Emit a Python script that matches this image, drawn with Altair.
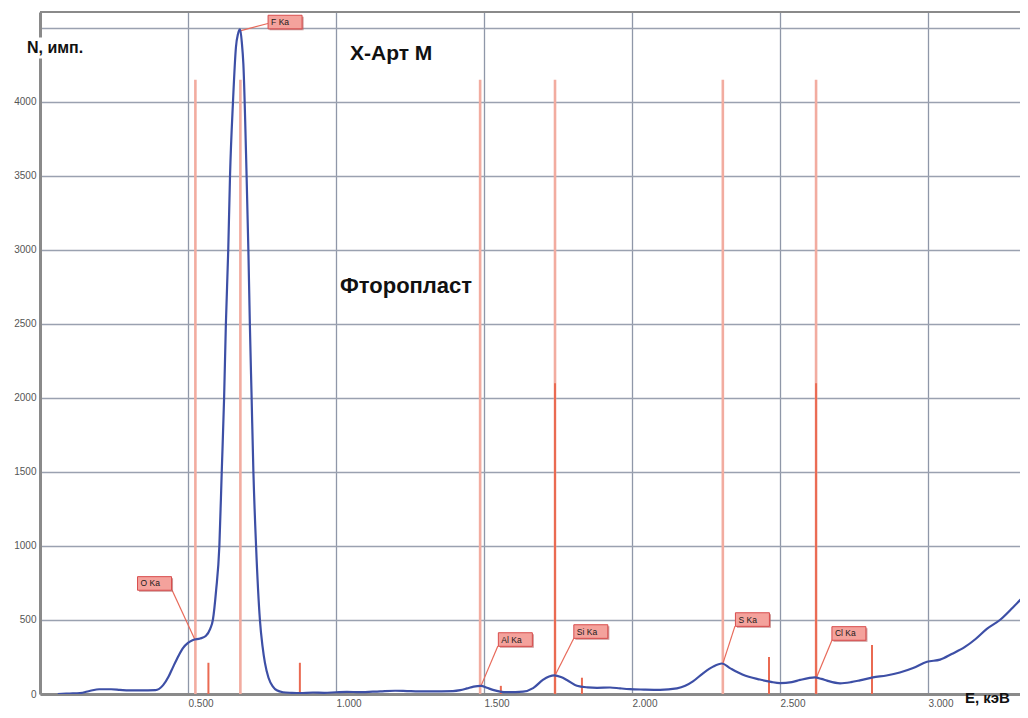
import altair as alt
import pandas as pd

# ---- spectrum curve (energy keV, counts) ----
energy = [0.06, 0.10, 0.135, 0.17, 0.20, 0.24, 0.27, 0.30, 0.34, 0.39, 0.416, 0.435, 0.449, 0.466, 0.483,
          0.50, 0.517, 0.541, 0.56, 0.575, 0.584, 0.595, 0.606, 0.614, 0.622, 0.628, 0.636, 0.642, 0.652,
          0.662, 0.669, 0.676, 0.682, 0.687, 0.698, 0.704, 0.709, 0.715, 0.721, 0.730, 0.743, 0.752, 0.760,
          0.772, 0.787, 0.80, 0.821, 0.85, 0.878, 0.922, 0.96, 1.00, 1.037, 1.08, 1.149, 1.20, 1.24, 1.28,
          1.318, 1.395, 1.42, 1.443, 1.465, 1.490, 1.51, 1.530, 1.555, 1.578, 1.632, 1.666, 1.699, 1.72,
          1.738, 1.76, 1.780, 1.814, 1.85, 1.882, 1.926, 1.96, 1.993, 2.04, 2.095, 2.152, 2.18, 2.206, 2.240,
          2.274, 2.304, 2.331, 2.375, 2.432, 2.47, 2.500, 2.54, 2.568, 2.618, 2.64, 2.659, 2.703, 2.74, 2.770,
          2.814, 2.86, 2.905, 2.95, 2.997, 3.041, 3.08, 3.125, 3.16, 3.199, 3.243, 3.287, 3.338]
counts = [0, 3, 6, 22, 32, 32, 28, 24, 24, 26, 60, 120, 180, 250, 310,
          345, 365, 375, 392, 440, 500, 700, 1000, 1500, 2000, 2500, 3000, 3500, 4000,
          4370, 4460, 4490, 4400, 4260, 3500, 3000, 2500, 2000, 1500, 1000, 500, 320, 210,
          110, 50, 25, 12, 8, 6, 10, 8, 12, 15, 12, 18, 22, 20, 18,
          18, 20, 26, 38, 50, 55, 42, 28, 16, 12, 16, 40, 95, 118,
          126, 115, 95, 56, 45, 42, 44, 38, 33, 30, 28, 38, 55, 85, 140,
          185, 206, 175, 130, 98, 82, 74, 80, 95, 112, 102, 90, 72, 80, 92,
          112, 125, 145, 175, 218, 232, 270, 318, 370, 440, 500, 585, 690]

# ---- element line markers ----
tall_e = [0.525, 0.677, 1.487, 1.740, 2.307, 2.622]
tall_n = [4150, 4150, 4150, 4150, 4150, 4150]
mid_e = [1.740, 2.622]
mid_n = [2100, 2100]
small_e = [0.569, 0.878, 1.557, 1.831, 2.463, 2.811]
small_n = [211, 211, 55, 110, 250, 331]

# ---- peak labels ----
lab_text = ["F Ka", "O Ka", "Al Ka", "Si Ka", "S Ka", "Cl Ka"]
lab_box_e = [0.828, 0.387, 1.606, 1.861, 2.407, 2.733]
lab_box_n = [4540, 747, 368, 422, 503, 409]
lab_peak_e = [0.676, 0.524, 1.490, 1.740, 2.307, 2.622]
lab_peak_n = [4480, 365, 55, 125, 205, 105]
lab_end_e = [0.770, 0.446, 1.547, 1.804, 2.348, 2.676]
lab_end_n = [4530, 703, 324, 378, 459, 365]

y_ticks = [0, 500, 1000, 1500, 2000, 2500, 3000, 3500, 4000, 4500]
x_ticks = [0.5, 1.0, 1.5, 2.0, 2.5, 3.0]

FONT = "Liberation Sans"
xs = alt.Scale(domain=[0, 3.311], nice=False, zero=False)
ys = alt.Scale(domain=[0, 4608], nice=False)

x_axis = alt.Axis(values=x_ticks, format=".3f", grid=True, gridColor="#8f97a8", gridWidth=1.3,
                  domainColor="#8a8a8a", domainWidth=3, ticks=False, labelAlign="left", labelPadding=4,
                  labelFontSize=10, labelColor="#555555", labelFont=FONT, labelFlush=False,
                  title=None)
y_axis = alt.Axis(values=y_ticks, labelExpr="datum.value == 4500 ? '' : datum.label", format="d",
                  grid=True, gridColor="#9aa1b0", gridWidth=1.3, domainColor="#8a8a8a", domainWidth=3,
                  ticks=False, labelPadding=4, labelFontSize=10, labelColor="#555555", labelFont=FONT,
                  title=None)

curve_df = pd.DataFrame({"E": energy, "N": counts})
tall_df = pd.DataFrame({"E": tall_e, "N": tall_n})
mid_df = pd.DataFrame({"E": mid_e, "N": mid_n})
small_df = pd.DataFrame({"E": small_e, "N": small_n})
lab_df = pd.DataFrame({"t": lab_text, "bE": lab_box_e, "bN": lab_box_n,
                       "pE": lab_peak_e, "pN": lab_peak_n, "eE": lab_end_e, "eN": lab_end_n})

base_grid = alt.Chart(curve_df).mark_line(opacity=0).encode(
    x=alt.X("E:Q", scale=xs, axis=x_axis),
    y=alt.Y("N:Q", scale=ys, axis=y_axis),
)

top_frame = alt.Chart(pd.DataFrame({"a": [0]})).mark_rule(color="#8a8a8a", strokeWidth=2).encode(
    y=alt.value(0)
)

tall = alt.Chart(tall_df).mark_rule(color="#f2aca0", strokeWidth=2.6).encode(
    x=alt.X("E:Q"), y=alt.Y("N:Q"), y2=alt.datum(0)
)
mid = alt.Chart(mid_df).mark_rule(color="#ea6a52", strokeWidth=2).encode(
    x=alt.X("E:Q"), y=alt.Y("N:Q"), y2=alt.datum(0)
)
small = alt.Chart(small_df).mark_rule(color="#ea6a52", strokeWidth=2).encode(
    x=alt.X("E:Q"), y=alt.Y("N:Q"), y2=alt.datum(0)
)

connectors = alt.Chart(lab_df).mark_rule(color="#e86a5a", strokeWidth=1.2).encode(
    x=alt.X("pE:Q"), y=alt.Y("pN:Q"), x2="eE:Q", y2="eN:Q"
)

curve = alt.Chart(curve_df).mark_line(color="#3d4fa6", strokeWidth=2.2, interpolate="monotone",
                                      clip=True).encode(
    x=alt.X("E:Q"), y=alt.Y("N:Q")
)

BOX = "M-1,-0.4H1V0.4H-1Z"
shadow = alt.Chart(lab_df).mark_point(shape=BOX, size=1156, filled=True, color="#b86a6a", opacity=0.7,
                                      xOffset=1.5, yOffset=1.5).encode(
    x=alt.X("bE:Q"), y=alt.Y("bN:Q")
)
boxes = alt.Chart(lab_df).mark_point(shape=BOX, size=1156, filled=True, fill="#f4a29c", stroke="#d84c4c",
                                     strokeWidth=1, opacity=1).encode(
    x=alt.X("bE:Q"), y=alt.Y("bN:Q")
)
box_text = alt.Chart(lab_df).mark_text(align="left", baseline="middle", dx=-14, fontSize=8.5,
                                       font=FONT, color="#1a1a1a").encode(
    x=alt.X("bE:Q"), y=alt.Y("bN:Q"), text="t:N"
)


def title_text(txt, px, py, size, align="left"):
    return alt.Chart(pd.DataFrame({"t": [txt]})).mark_text(
        align=align, baseline="middle", fontSize=size, fontWeight="bold", font=FONT, color="#111111"
    ).encode(x=alt.value(px), y=alt.value(py), text="t:N")


# white backing behind the y-axis title (it interrupts the axis line in the original)
n_back = alt.Chart(pd.DataFrame({"a": [0]})).mark_point(
    shape="M-1,-0.3H1V0.3H-1Z", size=4900, filled=True, color="white", opacity=1
).encode(x=alt.value(20), y=alt.value(36))

t_n = title_text("N, имп.", -13, 36, 16)
t_x = title_text("X-Арт M", 310, 42, 21)
t_f = title_text("Фторопласт", 300, 274, 22)
t_e = title_text("E, кэВ", 925, 686, 15)

chart = alt.layer(
    base_grid, top_frame, tall, mid, small, connectors, curve, shadow, boxes, box_text,
    n_back, t_n, t_x, t_f, t_e
).properties(
    width=980, height=682,
    autosize=alt.AutoSizeParams(type="none"),
    padding={"left": 32, "top": 4, "right": 0, "bottom": 16},
).configure_view(stroke=None).configure(background="white")

chart.save("out.html", embed_options={"renderer": "svg", "actions": False})
